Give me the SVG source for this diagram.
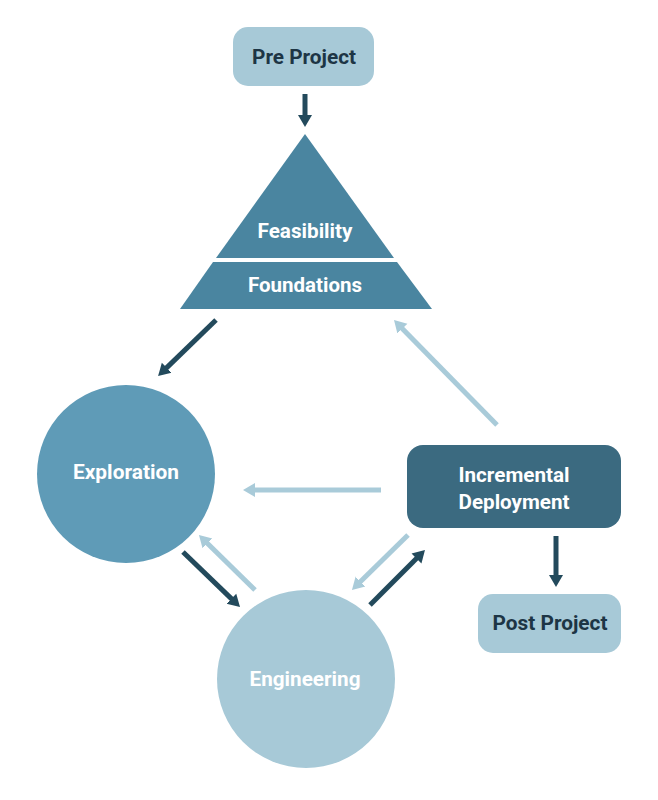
<svg xmlns="http://www.w3.org/2000/svg" width="658" height="800" viewBox="0 0 658 800">
<style>
text{font-family:Roboto,"Liberation Sans",sans-serif;font-weight:bold;font-size:21px;text-anchor:middle}
.lt{fill:#ffffff}
.dk{fill:#1d3545}
.cd{stroke:#234a5c;stroke-width:5;fill:none}
.cl{stroke:#a9cbd9;stroke-width:5;fill:none}
</style>
<defs>
<marker id="ad" viewBox="0 -8 13 16" refX="1" refY="0" markerWidth="13" markerHeight="16" markerUnits="userSpaceOnUse" orient="auto"><path d="M0,-7 L12,0 L0,7 z" fill="#234a5c"/></marker>
<marker id="al" viewBox="0 -8 13 16" refX="1" refY="0" markerWidth="13" markerHeight="16" markerUnits="userSpaceOnUse" orient="auto"><path d="M0,-7 L12,0 L0,7 z" fill="#a9cbd9"/></marker>
</defs>
<rect width="658" height="800" fill="#ffffff"/>
<g id="connectors">
<line class="cd" x1="305" y1="94" x2="305" y2="116" marker-end="url(#ad)"/>
<line class="cd" x1="216" y1="320" x2="166" y2="368.4" marker-end="url(#ad)"/>
<line class="cl" x1="497" y1="425" x2="401.7" y2="327.9" marker-end="url(#al)"/>
<line class="cl" x1="381" y1="490" x2="254" y2="490" marker-end="url(#al)"/>
<line class="cd" x1="556" y1="536" x2="556" y2="576" marker-end="url(#ad)"/>
<line class="cd" x1="183" y1="552" x2="232.1" y2="599.4" marker-end="url(#ad)"/>
<line class="cl" x1="255" y1="590" x2="206.8" y2="542.7" marker-end="url(#al)"/>
<line class="cl" x1="408" y1="535" x2="359.8" y2="582.3" marker-end="url(#al)"/>
<line class="cd" x1="370" y1="605" x2="417.2" y2="557.8" marker-end="url(#ad)"/>
</g>
<g id="pre-project">
<rect x="233" y="27" width="141" height="59" rx="15" fill="#a7c9d7"/>
<text class="dk" x="304" y="64" textLength="104" lengthAdjust="spacingAndGlyphs">Pre Project</text>
</g>
<g id="feasibility">
<polygon points="305,134 394,258 216,258" fill="#4a85a0"/>
<text class="lt" x="305" y="238" textLength="95" lengthAdjust="spacingAndGlyphs">Feasibility</text>
</g>
<g id="foundations">
<polygon points="213,262 397,262 432,309 180,309" fill="#4a85a0"/>
<text class="lt" x="305" y="292" textLength="114" lengthAdjust="spacingAndGlyphs">Foundations</text>
</g>
<g id="exploration">
<circle cx="126" cy="474" r="89" fill="#5f9bb7"/>
<text class="lt" x="126" y="479" textLength="106" lengthAdjust="spacingAndGlyphs">Exploration</text>
</g>
<g id="incremental-deployment">
<rect x="407" y="445" width="214" height="83" rx="16" fill="#3b6a80"/>
<text class="lt" x="514" y="482" textLength="111" lengthAdjust="spacingAndGlyphs">Incremental</text>
<text class="lt" x="514" y="509" textLength="111" lengthAdjust="spacingAndGlyphs">Deployment</text>
</g>
<g id="post-project">
<rect x="478" y="594" width="143" height="59" rx="15" fill="#a7c9d7"/>
<text class="dk" x="550" y="630" textLength="115" lengthAdjust="spacingAndGlyphs">Post Project</text>
</g>
<g id="engineering">
<circle cx="306" cy="679" r="89" fill="#a7c9d7"/>
<text class="lt" x="305" y="686" textLength="111" lengthAdjust="spacingAndGlyphs">Engineering</text>
</g>
</svg>
